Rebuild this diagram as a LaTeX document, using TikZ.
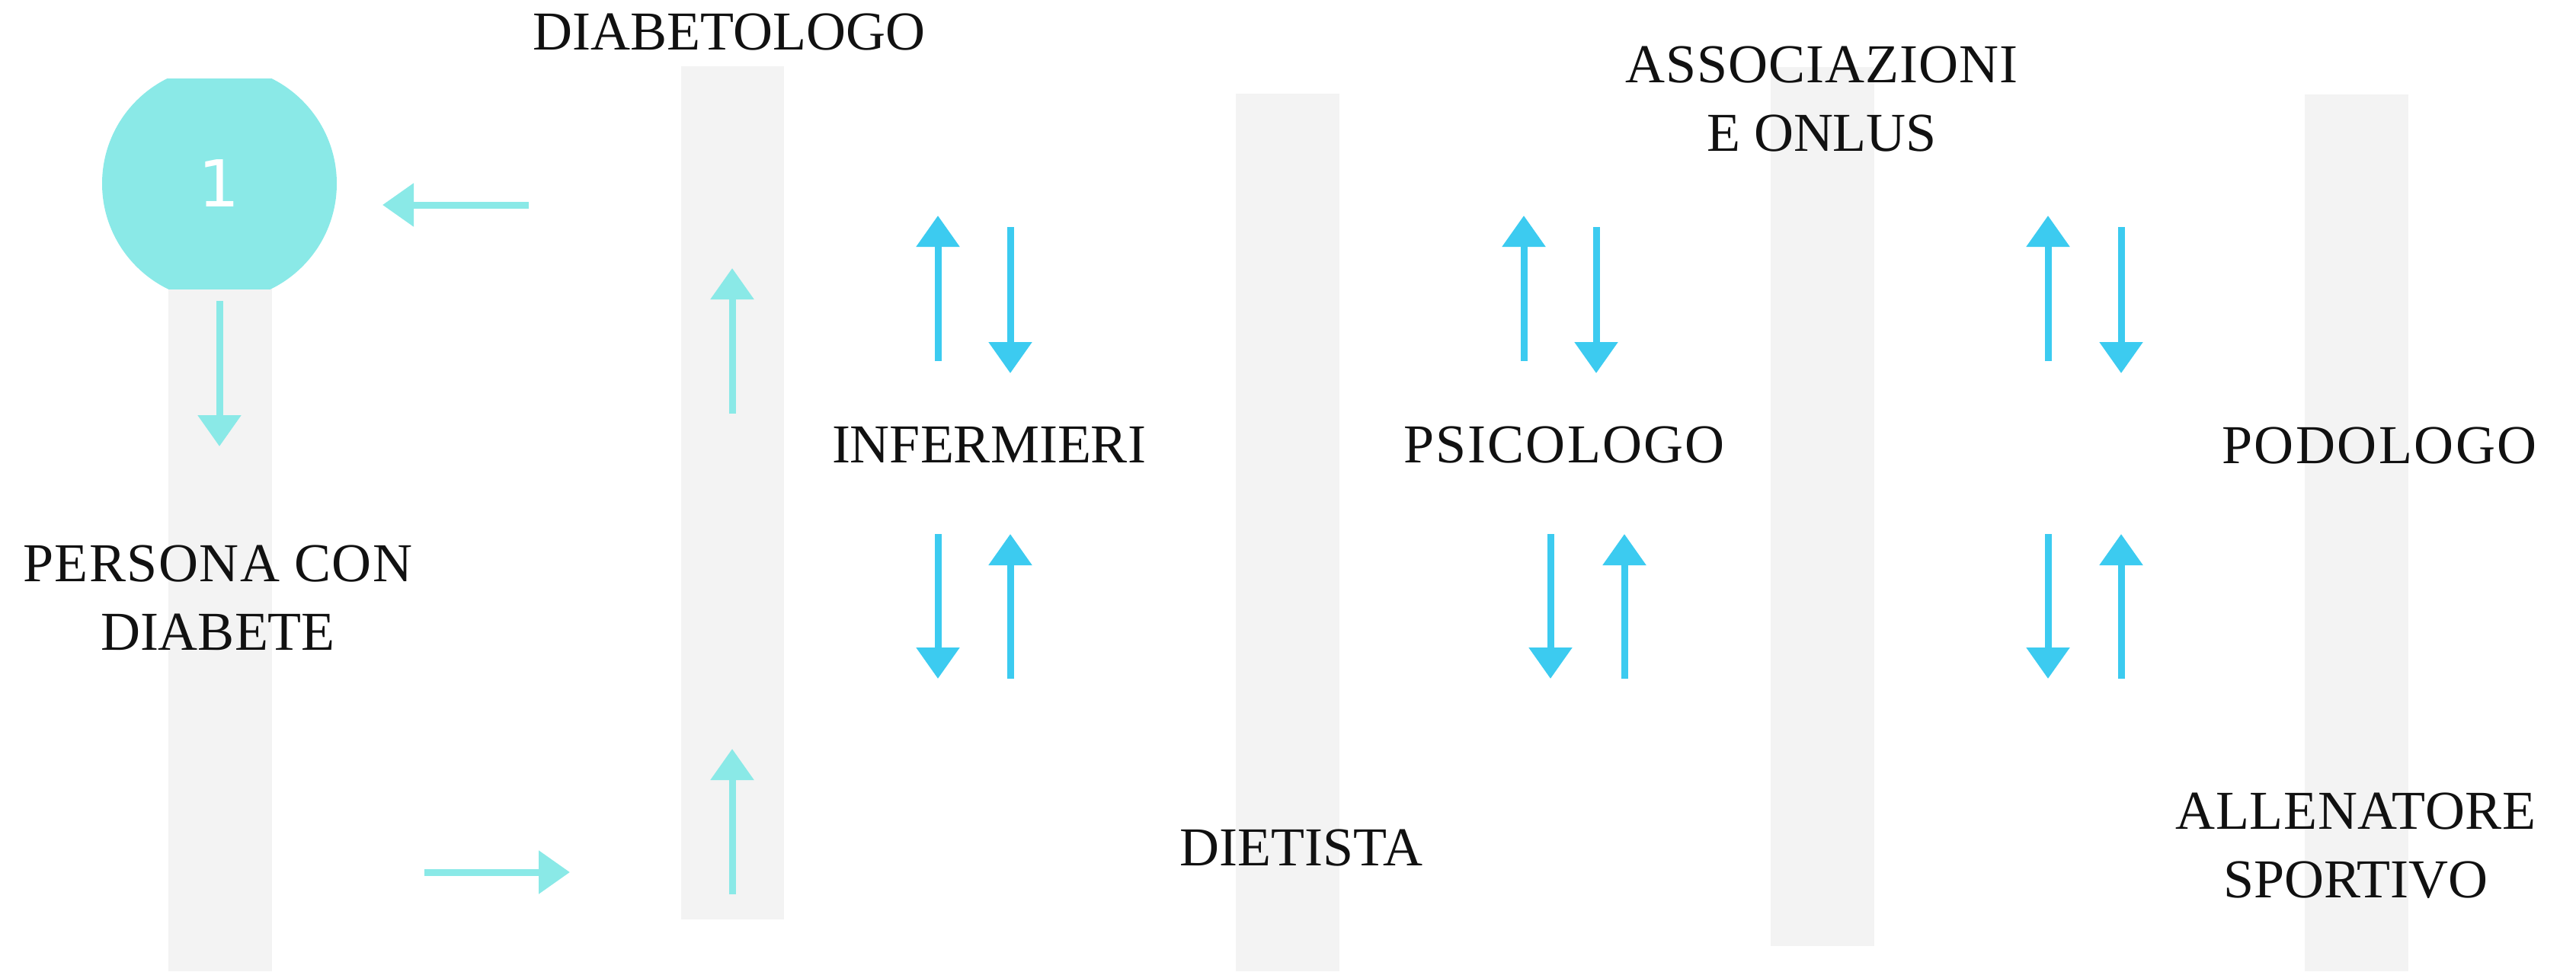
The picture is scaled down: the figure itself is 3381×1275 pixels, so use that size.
\documentclass[tikz,border=0pt]{standalone}
\usepackage{xcolor}
\usepackage{fontspec}
\setmainfont{Liberation Serif}
\newfontfamily\numfont{DejaVu Sans}
\usepackage{tikz}
\usetikzlibrary{arrows.meta, positioning}

\definecolor{aqua}{HTML}{8AE9E7}
\definecolor{sky}{HTML}{3CCBF0}
\definecolor{pale}{HTML}{F3F3F3}
\definecolor{ink}{HTML}{111111}

\begin{document}
\begin{tikzpicture}[x=1pt, y=-1pt]
\tikzstyle{band} = [fill=pale, draw=none]
\tikzstyle{role} = [font=\fontsize{72}{90}\selectfont, text=ink, inner sep=0pt, align=center]
\tikzstyle{flow} = [draw=aqua, line width=9pt, -{Triangle[length=41pt,width=55pt]}]
\tikzstyle{link} = [flow, draw=sky]

\useasboundingbox (0,0) rectangle (3381,1275);

% grey columns
\fill[band] (221,241) rectangle (357,1275);
\fill[band] (894,87) rectangle (1029,1207);
\fill[band] (1622,123) rectangle (1758,1275);
\fill[band] (2324,88) rectangle (2460,1242);
\fill[band] (3025,124) rectangle (3161,1275);

% badge
\begin{scope}
\clip (0,103) rectangle (600,379);
\node (num) [circle, fill=aqua, minimum size=308pt, inner sep=0pt, text=white, font=\numfont\fontsize{85}{85}\selectfont] at (288,241) {1};
\end{scope}

% labels
\node (diab) [role, anchor=base] at (957,65) {DIABETOLOGO};
\node (assoc) [role] at (2391,130) {\addfontfeature{LetterSpace=1.5}ASSOCIAZIONI\\E ONLUS};
\node (inf) [role, anchor=base] at (1298,607) {INFERMIERI};
\node (psi) [role, anchor=base] at (2053,607) {\addfontfeature{LetterSpace=3}PSICOLOGO};
\node (pod) [role, anchor=base] at (3123,608) {\addfontfeature{LetterSpace=3.5}PODOLOGO};
\node (pers) [role] at (286,785) {\addfontfeature{LetterSpace=2}PERSONA CON\\DIABETE};
\node (diet) [role, anchor=base] at (1708,1136) {DIETISTA};
\node (coach) [role] at (3092,1110) {\addfontfeature{LetterSpace=1}ALLENATORE\\SPORTIVO};

% patient side arrows
\coordinate (back_s) at (694,269);  \coordinate (back_e) at (502,269);
\coordinate (down_s) at (288,395);  \coordinate (down_e) at (288,586);
\coordinate (up1_s) at (961,543);   \coordinate (up1_e) at (961,352);
\coordinate (in_s) at (557,1145);   \coordinate (in_e) at (748,1145);
\coordinate (up2_s) at (961,1174);  \coordinate (up2_e) at (961,983);
\draw[flow] (back_s) -- (back_e);
\draw[flow] (down_s) -- (down_e);
\draw[flow] (up1_s) -- (up1_e);
\draw[flow] (in_s) -- (in_e);
\draw[flow] (up2_s) -- (up2_e);

% exchange arrows around each role
\foreach \n/\a/\b/\c/\d in {inf/1231/1326/1231/1326, psi/2000/2095/2035/2132, pod/2688/2784/2688/2784} {
  \coordinate (\n_ua) at (\a,474); \coordinate (\n_ub) at (\a,283);
  \coordinate (\n_da) at (\b,298); \coordinate (\n_db) at (\b,490);
  \coordinate (\n_la) at (\c,701); \coordinate (\n_lb) at (\c,891);
  \coordinate (\n_ra) at (\d,891); \coordinate (\n_rb) at (\d,701);
  \draw[link] (\n_ua) -- (\n_ub);
  \draw[link] (\n_da) -- (\n_db);
  \draw[link] (\n_la) -- (\n_lb);
  \draw[link] (\n_ra) -- (\n_rb);
}

\end{tikzpicture}
\end{document}
